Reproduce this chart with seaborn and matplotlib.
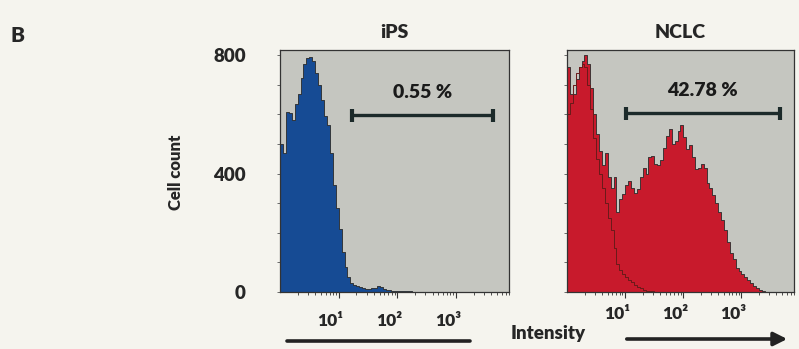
import numpy as np
import matplotlib
matplotlib.use("Agg")
import matplotlib.pyplot as plt
import matplotlib.transforms as mtransforms
from matplotlib.ticker import LogLocator, NullFormatter, MultipleLocator
import seaborn as sns

sns.set_style("white")
plt.rcParams['font.family'] = ['Lato', 'DejaVu Sans']

# ---------------- data (log10 bins of width 0.05 starting at 10^0) ----------------
panel_titles = ["iPS", "NCLC"]
gate_labels = ["0.55 %", "42.78 %"]
y_ticks = [0, 400, 800]
x_tick_values = [10, 100, 1000]
x_tick_labels = ["10\u00b9", "10\u00b2", "10\u00b3"]

ips_counts = [500, 470, 610, 605, 580, 635, 670, 725, 770, 790,
              795, 780, 740, 700, 650, 595, 565, 470, 360, 285,
              212, 135, 85, 50, 32, 24, 20, 16, 12, 10,
              10, 12, 15, 20, 18, 10, 8, 6, 5, 5,
              4, 3, 2, 2, 2, 1]

nclc_counts = [760, 670, 670, 720, 760, 780, 800, 770, 690, 600,
               535, 478, 430, 470, 390, 350, 390, 270, 315, 330,
               360, 375, 350, 335, 347, 390, 420, 400, 455, 460,
               432, 428, 447, 488, 528, 552, 500, 510, 545, 565,
               525, 485, 498, 455, 415, 420, 432, 420, 368, 350,
               328, 300, 270, 242, 210, 170, 132, 112, 82, 70,
               60, 50, 41, 31, 21, 12, 6, 3, 1]

nclc_control = [600, 640, 700, 740, 760, 770, 760, 700, 620, 520,
                450, 400, 350, 300, 250, 210, 150, 95, 75, 60,
                50, 40, 35, 25, 18, 12, 8, 5, 3, 2, 1]

gate_ranges = [(17, 4200), (10.2, 4560)]
gate_y = [598, 605]
gate_text_y = [675, 682]

BW = 0.05


def centers(n):
    return 10 ** (BW / 2 + BW * np.arange(n))


# ---------------- figure ----------------
W, H = 799, 349
fig = plt.figure(figsize=(W / 100, H / 100), dpi=100)
fig.patch.set_facecolor("#f5f4ee")

ax1 = fig.add_axes([280 / W, 1 - 292 / H, 229 / W, 242 / H])
ax2 = fig.add_axes([567 / W, 1 - 292 / H, 227 / W, 242 / H])

face = "#c5c6c0"
fill_cols = ["#164b94", "#c81a2c"]
series = [ips_counts, nclc_counts]
HW = "heavy"

for i, ax in enumerate([ax1, ax2]):
    ax.set_facecolor(face)
    cnt = series[i]
    sns.histplot(x=centers(len(cnt)), weights=cnt, binwidth=BW, binrange=(0, BW * len(cnt)),
                 log_scale=True, element="step", fill=True, color=fill_cols[i],
                 alpha=1.0, edgecolor="#2a2a2a", linewidth=0.6, ax=ax)
    if i == 1:
        sns.histplot(x=centers(len(nclc_control)), weights=nclc_control, binwidth=BW,
                     binrange=(0, BW * len(nclc_control)), log_scale=True,
                     element="step", fill=False, color="#6a1a1a", linewidth=0.7, ax=ax)
    ax.set_xlim(1, 8000)
    ax.set_ylim(0, 818)
    ax.set_xlabel("")
    ax.set_ylabel("")
    for s in ax.spines.values():
        s.set_color("#333333")
        s.set_linewidth(0.9)
    ax.xaxis.set_minor_locator(LogLocator(base=10, subs=np.arange(2, 10)))
    ax.xaxis.set_minor_formatter(NullFormatter())
    ax.set_xticks(x_tick_values)
    ax.set_xticklabels(x_tick_labels, fontsize=12.5, fontweight=HW)
    ax.tick_params(axis="x", which="major", length=4, width=0.8, color="#333333",
                   pad=11 if i == 0 else 6, bottom=True)
    ax.tick_params(axis="x", which="minor", length=2.5, width=0.6, color="#333333", bottom=True)
    ax.yaxis.set_minor_locator(MultipleLocator(100))
    ax.tick_params(axis="y", which="minor", length=2.5, width=0.6, color="#555555", left=True)
    ax.tick_params(axis="y", which="major", length=2.5, width=0.6, color="#555555", left=True)
    offset = mtransforms.ScaledTranslation(-8 / 100, 0, fig.dpi_scale_trans)
    for lab in ax.get_xticklabels():
        lab.set_transform(lab.get_transform() + offset)
    ax.set_yticks(y_ticks)
    if i == 0:
        ax.set_yticklabels([str(v) for v in y_ticks], fontsize=13.5, fontweight=HW)
        ax.tick_params(axis="y", which="major", pad=22)
    else:
        ax.set_yticklabels([])

    # gate bar
    g0, g1 = gate_ranges[i]
    ax.plot([g0, g1], [gate_y[i], gate_y[i]], color="#1c2a2a", lw=2.4, solid_capstyle="butt")
    for gx in (g0, g1):
        ax.plot([gx, gx], [gate_y[i] - 22, gate_y[i] + 22], color="#1c2a2a", lw=3,
                solid_capstyle="butt")
    gm = np.sqrt(g0 * g1)
    ax.text(gm, gate_text_y[i], gate_labels[i], ha="center", va="center", fontsize=14,
            fontweight=HW, color="#1a1a1a")
    ax.set_title(panel_titles[i], fontsize=14, fontweight=HW, pad=9)

fig.text(10 / W, 1 - 35 / H, "B", fontsize=15, fontweight=HW, ha="left", va="center")
fig.text(176 / W, 1 - 172 / H, "Cell count", fontsize=12, fontweight=HW, rotation=90,
         ha="center", va="center")
fig.text(548 / W, 1 - 334 / H, "Intensity", fontsize=13.5, fontweight=HW, ha="center", va="center")

# bottom line and arrow
fig.add_artist(plt.Line2D([287 / W, 470 / W], [1 - 341 / H, 1 - 341 / H], color="#222222", lw=2.6,
                          transform=fig.transFigure))
fig.patches.append(matplotlib.patches.FancyArrowPatch((624 / W, 1 - 339 / H), (790 / W, 1 - 339 / H),
                                                      transform=fig.transFigure, arrowstyle="-|>",
                                                      mutation_scale=20, lw=2.6, color="#222222",
                                                      figure=fig))

fig.savefig("out.png", dpi=100, facecolor=fig.get_facecolor())
